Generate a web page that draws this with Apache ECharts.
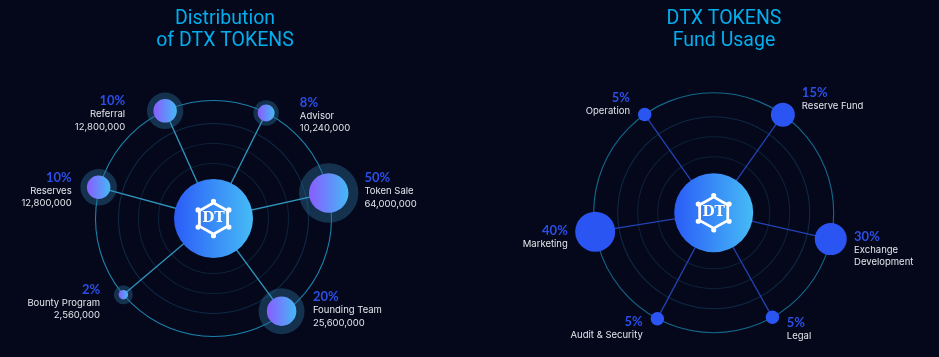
<!DOCTYPE html>
<html>
<head>
<meta charset="utf-8">
<style>
  html, body { margin: 0; padding: 0; background: #05071a; }
  #chart { width: 939px; height: 357px; }
</style>
<script src="https://cdn.jsdelivr.net/npm/echarts@6/dist/echarts.min.js"></script>
</head>
<body>
<div id="chart"></div>
<script>
// Left chart data
const tokenNames = ["Referral", "Advisor", "Token Sale", "Founding Team", "Bounty Program", "Reserves"];
const tokenShares = [10, 8, 50, 20, 2, 10];
const tokenAmounts = [12800000, 10240000, 64000000, 25600000, 2560000, 12800000];
const tokenAngles = [114.2, 63.5, 12.5, 306.3, 220.2, 164.8];
const tokenRadii = [118, 118, 118, 115, 118, 119];

// Right chart data
const fundNames = ["Operation", "Reserve Fund", "Exchange\nDevelopment", "Legal", "Audit & Security", "Marketing"];
const fundShares = [5, 15, 30, 5, 5, 40];
const fundAngles = [125.1, 54.8, 347.3, 299.3, 242, 189.1];
const fundRadii = [120, 120, 120, 120, 120, 120];

// Ring radii per chart
const tokenRings = [55, 75, 95, 118];
const fundRings = [56, 76, 96, 120];

// Marker diameters by share, the two charts use different scales
const tokenDot = { 2: 9.5, 8: 17, 10: 23.5, 20: 29.5, 50: 39.5 };
const tokenHalo = { 2: 19, 8: 25.5, 10: 36.5, 20: 46, 50: 59.5 };
const fundDot = { 5: 13.5, 15: 24, 30: 32, 40: 40 };

// Label placement: [horizontal gap from the point (negative = left), vertical shift]
const tokenLabelPos = [[-40, 2.8], [33.7, 2], [35.7, -2.5], [31.3, -1.5], [-23.3, 7.5], [-27, 3]];
const fundLabelPos = [[-14.7, -10], [19, -16], [23.3, 10], [14.4, 11.7], [-14.6, 9.5], [-27.4, 5.3]];

const FONT = "Inter";
const hexLogo =
  "path://M50 -2.5a7.5 7.5 0 1 1 -0.01 0Z" +
  "M95 22.5a7.5 7.5 0 1 1 -0.01 0Z" +
  "M95 72.5a7.5 7.5 0 1 1 -0.01 0Z" +
  "M50 97.5a7.5 7.5 0 1 1 -0.01 0Z" +
  "M5 72.5a7.5 7.5 0 1 1 -0.01 0Z" +
  "M5 22.5a7.5 7.5 0 1 1 -0.01 0Z" +
  "M50 5L95 30L95 80L50 105L5 80L5 30Z" +
  "M50 14L13 34.5L13 75.5L50 96L87 75.5L87 34.5Z";

function hGradient(from, to) {
  return new echarts.graphic.LinearGradient(0, 0, 1, 0, [
    { offset: 0, color: from },
    { offset: 1, color: to },
  ]);
}

// Builds all series of one radial chart on the given polar index
function buildSeries(cfg) {
  const points = cfg.names.map((name, i) => [cfg.radii[i], cfg.angles[i]]);
  const series = [];

  if (cfg.halo) {
    series.push({
      type: "scatter", coordinateSystem: "polar", polarIndex: cfg.polar, z: 2, silent: true,
      data: points.map((p, i) => ({ value: p, symbolSize: cfg.halo[cfg.shares[i]] })),
      itemStyle: { color: "rgba(44,108,150,0.42)", opacity: 1 },
    });
  }

  // spokes from the hub to each point
  points.forEach((p) => {
    series.push({
      type: "line", coordinateSystem: "polar", polarIndex: cfg.polar, z: 3, silent: true,
      clip: false, symbol: "none",
      data: [[0, p[1]], p],
      lineStyle: { color: cfg.spoke, width: 1.3 },
    });
  });

  series.push({
    type: "scatter", coordinateSystem: "polar", polarIndex: cfg.polar, z: 4, silent: true,
    data: points.map((p, i) => ({ value: p, symbolSize: cfg.dot[cfg.shares[i]] })),
    itemStyle: { color: cfg.dotColor, opacity: 1 },
  });

  // hub and logo
  series.push({
    type: "scatter", coordinateSystem: "polar", polarIndex: cfg.polar, z: 5, silent: true,
    data: [[0, 0]], symbolSize: 79,
    itemStyle: { color: hGradient("#2b5cf8", "#46bbf6"), opacity: 1 },
  });
  series.push({
    type: "scatter", coordinateSystem: "polar", polarIndex: cfg.polar, z: 6, silent: true,
    data: [[0, 0]], symbol: hexLogo, symbolSize: [36, 39.5],
    itemStyle: { color: "#ffffff", opacity: 1 },
    label: {
      show: true, position: "inside", formatter: "DT", color: "#ffffff",
      fontFamily: "DejaVu Serif", fontWeight: "bold", fontSize: 14,
    },
  });

  // text labels sit on an invisible copy of the points
  series.push({
    type: "scatter", coordinateSystem: "polar", polarIndex: cfg.polar, z: 7, silent: true,
    symbolSize: 0,
    itemStyle: { opacity: 1 },
    data: points.map((p, i) => {
      const pos = cfg.labelPos[i];
      const side = pos[0] < 0 ? "left" : "right";
      const lines = ["{pct|" + cfg.shares[i] + "%}"];
      cfg.names[i].split("\n").forEach((t) => lines.push("{txt|" + t + "}"));
      if (cfg.amounts) lines.push("{txt|" + cfg.amounts[i].toLocaleString("en-US") + "}");
      return {
        value: p,
        label: {
          show: true, position: side, distance: 0, offset: pos,
          formatter: lines.join("\n"),
          rich: {
            pct: { fontFamily: "Lato", fontSize: 13, fontWeight: 700, color: "#2b4fe6", lineHeight: 14, align: side === "left" ? "right" : "left" },
            txt: { fontFamily: FONT, fontSize: 9.5, color: "#e4e6ec", lineHeight: 12.5, align: side === "left" ? "right" : "left" },
          },
        },
      };
    }),
  });
  return series;
}

function polarAxes(index, rings, ringColors) {
  return {
    radiusAxis: {
      polarIndex: index, min: 0, max: 130,
      axisLine: { show: false }, axisLabel: { show: false },
      axisTick: { show: false, customValues: rings },
      splitLine: { show: true, lineStyle: { color: ringColors, width: 1.1 } },
    },
    angleAxis: {
      polarIndex: index, type: "value", min: 0, max: 360, startAngle: 0, clockwise: false,
      axisLine: { show: false }, axisLabel: { show: false }, axisTick: { show: false },
      splitLine: { show: false },
    },
  };
}

const leftAxes = polarAxes(0, tokenRings, ["#0c2238", "#0c2238", "#0d2a46", "#1b82ac"]);
const rightAxes = polarAxes(1, fundRings, ["#0c2238", "#0c2238", "#0d2a46", "#14688a"]);

const titleStyle = { fontFamily: "Roboto", fontSize: 19.5, fontWeight: 400, color: "#02aeee", lineHeight: 22 };

const option = {
  backgroundColor: "#05071a",
  animation: false,
  title: [
    { text: "Distribution\nof DTX TOKENS", left: 220, top: 3, textAlign: "center", textStyle: titleStyle },
    { text: "DTX TOKENS\nFund Usage", left: 719, top: 3, textAlign: "center", textStyle: titleStyle },
  ],
  polar: [
    { center: [213.5, 218.5], radius: [0, 130] },
    { center: [713.7, 212.7], radius: [0, 130] },
  ],
  radiusAxis: [leftAxes.radiusAxis, rightAxes.radiusAxis],
  angleAxis: [leftAxes.angleAxis, rightAxes.angleAxis],
  series: buildSeries({
    polar: 0, names: tokenNames, shares: tokenShares, amounts: tokenAmounts,
    angles: tokenAngles, radii: tokenRadii, dot: tokenDot, halo: tokenHalo,
    labelPos: tokenLabelPos, spoke: "#2f95bd", dotColor: hGradient("#8a5cff", "#45b8f5"),
  }).concat(buildSeries({
    polar: 1, names: fundNames, shares: fundShares,
    angles: fundAngles, radii: fundRadii, dot: fundDot,
    labelPos: fundLabelPos, spoke: "#2343b4", dotColor: "#2b55f2",
  })),
};

const chart = echarts.init(document.getElementById("chart"));
chart.setOption(option);
window.addEventListener("resize", () => chart.resize());
</script>
</body>
</html>
